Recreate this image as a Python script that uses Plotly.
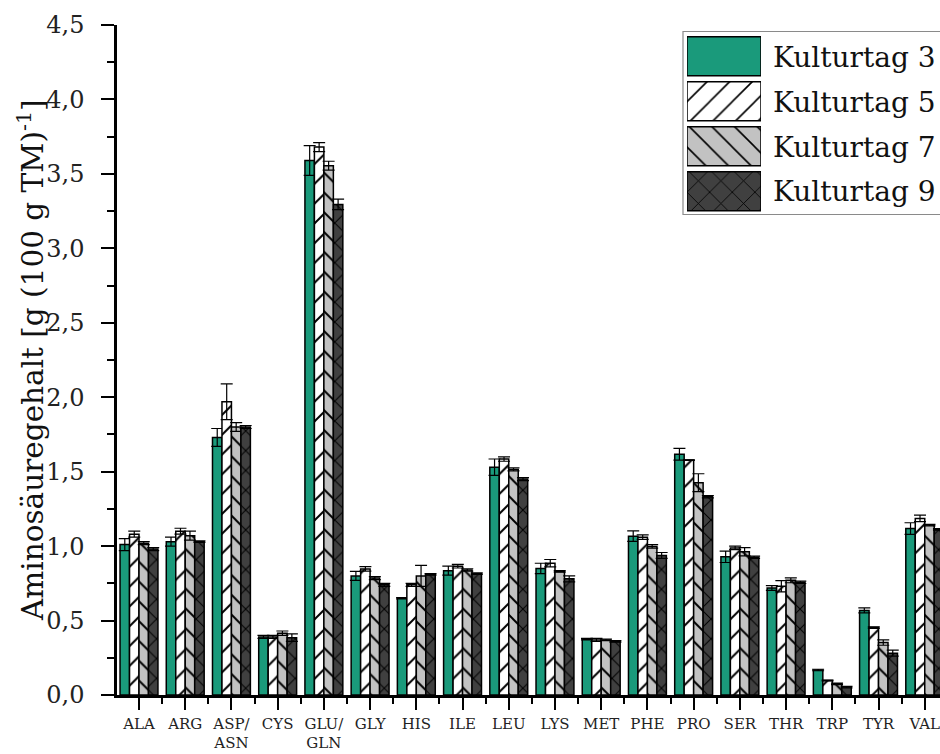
import plotly.graph_objects as go

# Amino acid content per culture day, g (100 g TM)^-1, mean and standard deviation
categories = ["ALA", "ARG", "ASP/<br>ASN", "CYS", "GLU/<br>GLN", "GLY", "HIS", "ILE", "LEU",
              "LYS", "MET", "PHE", "PRO", "SER", "THR", "TRP", "TYR", "VAL"]

tag3 = [1.01, 1.03, 1.73, 0.39, 3.59, 0.80, 0.65, 0.835, 1.53, 0.85, 0.375, 1.067, 1.617, 0.928, 0.719, 0.168, 0.568, 1.118]
tag5 = [1.08, 1.10, 1.97, 0.39, 3.68, 0.847, 0.74, 0.865, 1.585, 0.885, 0.37, 1.06, 1.578, 0.988, 0.73, 0.097, 0.453, 1.186]
tag7 = [1.02, 1.07, 1.80, 0.415, 3.555, 0.785, 0.80, 0.84, 1.515, 0.83, 0.37, 0.998, 1.426, 0.962, 0.77, 0.075, 0.352, 1.141]
tag9 = [0.98, 1.03, 1.80, 0.385, 3.295, 0.74, 0.81, 0.815, 1.45, 0.78, 0.36, 0.937, 1.332, 0.925, 0.757, 0.053, 0.281, 1.112]

err3 = [0.04, 0.03, 0.06, 0.01, 0.10, 0.03, 0.005, 0.03, 0.055, 0.035, 0.005, 0.035, 0.04, 0.038, 0.016, 0.005, 0.017, 0.039]
err5 = [0.02, 0.02, 0.12, 0.01, 0.03, 0.015, 0.01, 0.012, 0.015, 0.025, 0.01, 0.015, 0.002, 0.012, 0.038, 0.003, 0.005, 0.022]
err7 = [0.01, 0.03, 0.03, 0.015, 0.03, 0.01, 0.07, 0.008, 0.01, 0.005, 0.005, 0.012, 0.06, 0.028, 0.016, 0.005, 0.018, 0.005]
err9 = [0.01, 0.005, 0.01, 0.025, 0.035, 0.01, 0.005, 0.005, 0.01, 0.02, 0.005, 0.02, 0.008, 0.008, 0.008, 0.005, 0.02, 0.005]

series_names = ["Kulturtag 3", "Kulturtag 5", "Kulturtag 7", "Kulturtag 9"]
values = [tag3, tag5, tag7, tag9]
errors = [err3, err5, err7, err9]

fill_colors = ["#1a9a7b", "#ffffff", "#c2c2c2", "#404040"]
hatch_shapes = ["", "/", "\\", "x"]

FONT = "DejaVu Serif"
INK = "#000000"
xpos = list(range(len(categories)))

fig = go.Figure()

for name, vals, errs, col, shp in zip(series_names, values, errors, fill_colors, hatch_shapes):
    pattern = dict(shape=shp, bgcolor=col, fgcolor=INK, fgopacity=1, size=14, solidity=0.14) if shp else None
    fig.add_trace(go.Bar(
        x=xpos, y=vals, name=name,
        marker=dict(color=col, line=dict(color=INK, width=1.5), pattern=pattern),
        error_y=dict(type="data", array=errs, visible=True, color=INK, thickness=1.2, width=6),
    ))

# Legend drawn as a small bar chart of its own so the swatches can be large
for i, (col, shp) in enumerate(zip(fill_colors, hatch_shapes)):
    pattern = dict(shape=shp, bgcolor=col, fgcolor=INK, fgopacity=1, size=16, solidity=0.1) if shp else None
    fig.add_trace(go.Bar(
        x=[1], y=[i], base=0, orientation="h", width=0.867, offsetgroup="key",
        xaxis="x2", yaxis="y2", hoverinfo="skip",
        marker=dict(color=col, line=dict(color=INK, width=1.5), pattern=pattern),
    ))

L, T, B, W, H = 117, 25, 59, 940, 754
pw, ph = W - L, H - T - B


def px(x):
    return (x - L) / pw


def py(y):
    return (H - B - y) / ph


for i, name in enumerate(series_names):
    fig.add_annotation(x=px(771), y=py(57 + 45 * i), xref="paper", yref="paper",
                       text=name, showarrow=False, xanchor="left", yanchor="middle",
                       font=dict(family=FONT, size=28, color="#111111"))

fig.add_shape(type="rect", xref="paper", yref="paper",
              x0=px(683), x1=px(960), y0=py(214.5), y1=py(31.5),
              line=dict(color="#8a8a8a", width=1.2), fillcolor="rgba(0,0,0,0)", layer="above")

fig.add_annotation(x=px(31), y=0.5, xref="paper", yref="paper", textangle=-90,
                   text="Aminosäuregehalt [g (100 g TM)<sup>-1</sup>]", showarrow=False,
                   xanchor="center", yanchor="middle",
                   font=dict(family=FONT, size=29.5, color="#111111"))

fig.update_layout(
    width=W, height=H,
    margin=dict(l=L, r=0, t=T, b=B, pad=0, autoexpand=False),
    paper_bgcolor="white", plot_bgcolor="white",
    separators=",.",
    barmode="group", bargap=0.18, bargroupgap=0,
    showlegend=False,
    xaxis=dict(
        range=[-0.476, 17.33], tickmode="array", tickvals=xpos, ticktext=categories,
        ticks="outside", ticklen=12, tickwidth=2, tickcolor=INK,
        ticklabeloverflow="allow", ticklabelstandoff=1, automargin=False,
        showline=True, linewidth=2.5, linecolor=INK,
        showgrid=False, zeroline=False,
        tickfont=dict(family=FONT, size=15, color="#222222"),
        minor=dict(tickmode="array", tickvals=[i + 0.5 for i in xpos[:-1]],
                   ticks="outside", ticklen=6, tickwidth=2, tickcolor=INK, showgrid=False),
    ),
    yaxis=dict(
        range=[0, 4.5], tick0=0, dtick=0.5, tickformat=".1f",
        ticks="outside", ticklen=13, tickwidth=2, tickcolor=INK,
        ticklabelstandoff=12, automargin=False,
        showline=True, linewidth=2.5, linecolor=INK,
        showgrid=False, zeroline=False,
        tickfont=dict(family=FONT, size=24, color="#222222"),
        minor=dict(dtick=0.25, ticks="outside", ticklen=7, tickwidth=2,
                   tickcolor=INK, showgrid=False),
    ),
    xaxis2=dict(domain=[px(687), px(761)], range=[0, 1], visible=False, anchor="y2"),
    yaxis2=dict(domain=[py(213.8), py(33.8)], range=[3.5, -0.5], visible=False, anchor="x2"),
)

fig.write_html("out.html")
